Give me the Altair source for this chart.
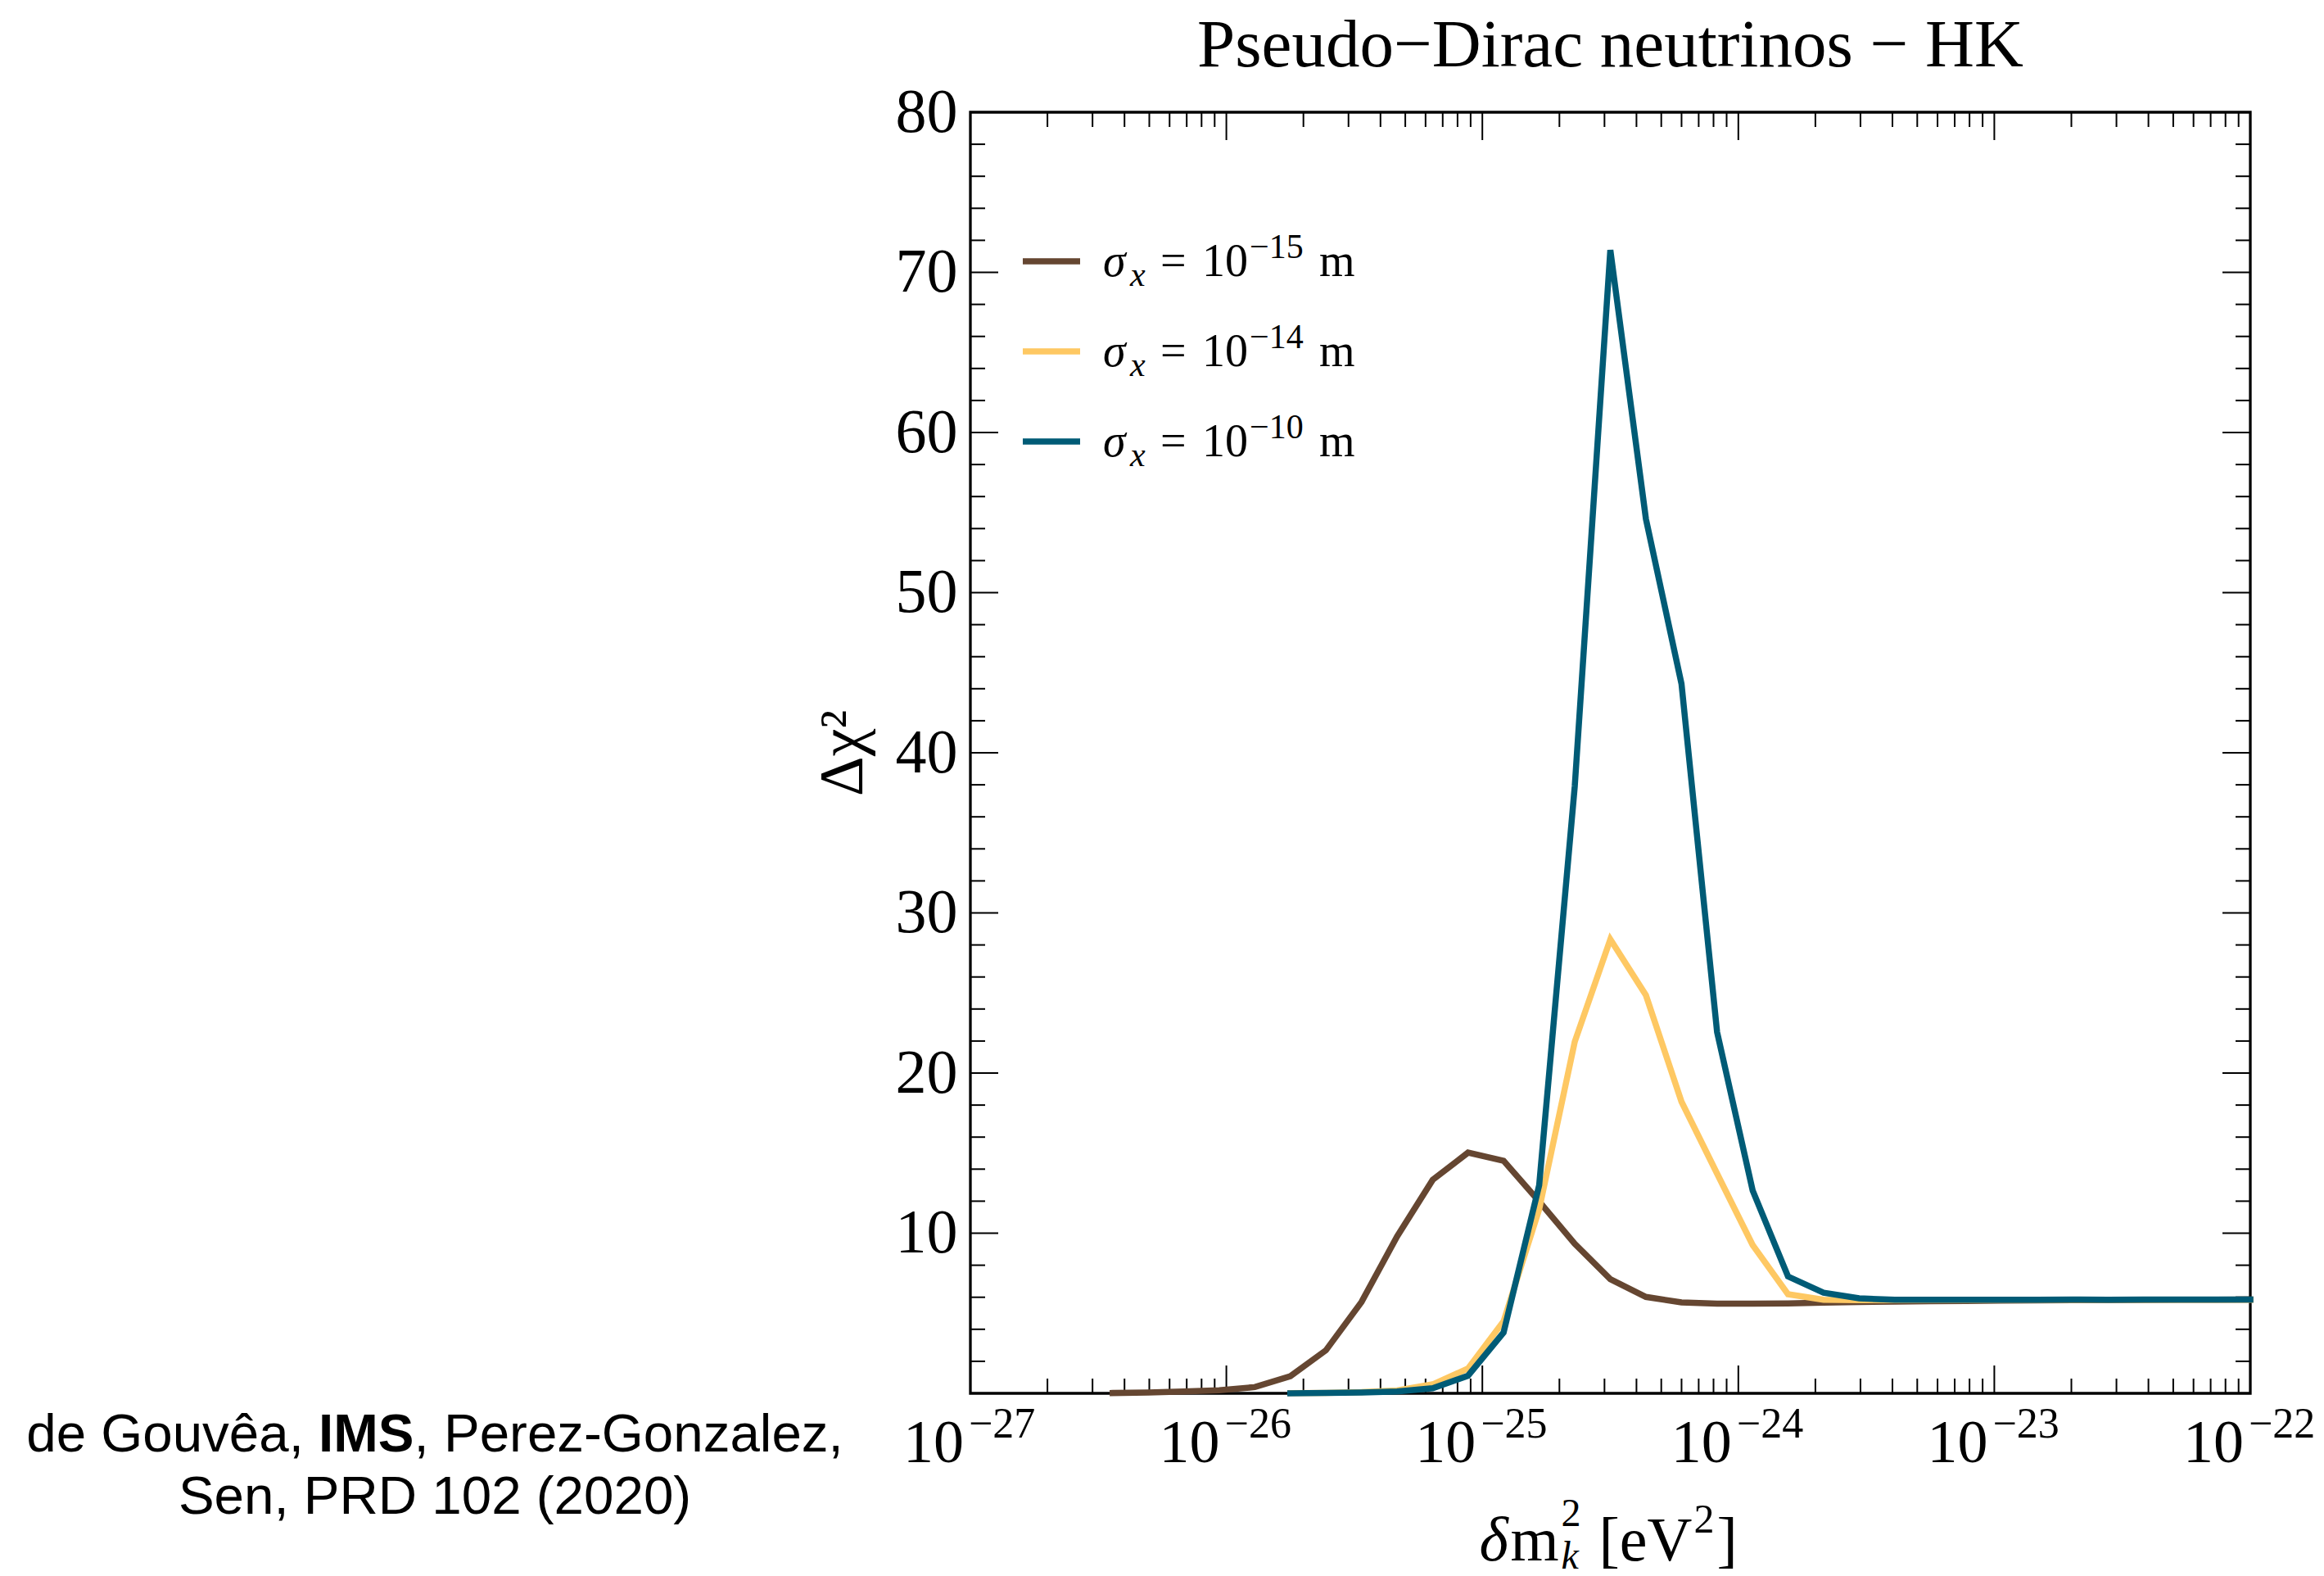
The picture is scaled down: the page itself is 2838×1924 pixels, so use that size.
import altair as alt
import pandas as pd

# ---------------- data ----------------
TITLE = "Pseudo\u2212Dirac neutrinos \u2212 HK"
SERIES = ["σx = 10^-15 m", "σx = 10^-14 m", "σx = 10^-10 m"]
SERIES_EXP = ["\u221215", "\u221214", "\u221210"]
COLORS = ["#654631", "#FEC863", "#005B76"]

# log10(delta m^2 / eV^2) sampling points
LOG_DM2 = [-27.000, -26.861, -26.722, -26.583, -26.444, -26.306, -26.167, -26.028,
           -25.889, -25.750, -25.611, -25.472, -25.333, -25.194, -25.056, -24.917,
           -24.778, -24.639, -24.500, -24.361, -24.222, -24.083, -23.944, -23.806,
           -23.667, -23.528, -23.389, -23.250, -23.111, -22.972, -22.833, -22.694,
           -22.556, -22.417, -22.278, -22.139, -22.000]

LOG_DM2_15 = LOG_DM2[4:]
CHI2_15 = [0.02, 0.05, 0.12, 0.19, 0.39, 1.07, 2.69, 5.71, 9.80, 13.33, 15.03, 14.52,
           11.98, 9.34, 7.13, 6.02, 5.68, 5.60, 5.60, 5.62, 5.66, 5.70, 5.73, 5.75,
           5.77, 5.79, 5.80, 5.82, 5.82, 5.83, 5.84, 5.84, 5.85]

LOG_DM2_14 = LOG_DM2[9:]
CHI2_14 = [0.01, 0.03, 0.08, 0.18, 0.56, 1.55, 4.50, 11.50, 21.96, 28.35, 24.86, 18.21,
           13.72, 9.26, 6.19, 5.85, 5.82, 5.82, 5.83, 5.83, 5.84, 5.84, 5.85, 5.85,
           5.85, 5.85, 5.85, 5.85]

LOG_DM2_10 = LOG_DM2[9:]
CHI2_10 = [0.00, 0.02, 0.05, 0.12, 0.32, 1.10, 3.80, 13.00, 37.90, 71.40, 54.60, 44.30,
           22.56, 12.67, 7.30, 6.28, 5.93, 5.85, 5.84, 5.84, 5.85, 5.85, 5.86, 5.85,
           5.86, 5.86, 5.86, 5.86]

X_MAJOR = [1e-27, 1e-26, 1e-25, 1e-24, 1e-23, 1e-22]
X_EXP = ["\u221227", "\u221226", "\u221225", "\u221224", "\u221223", "\u221222"]
X_MINOR = [m * 10.0 ** e for e in range(-27, -22) for m in range(2, 10)]
Y_MAJOR = [0, 10, 20, 30, 40, 50, 60, 70, 80]
Y_MINOR = [v for v in range(0, 81, 2) if v % 10]
Y_LABELS = [10, 20, 30, 40, 50, 60, 70, 80]

CITE_1A = "de Gouvêa,"
CITE_1B = "IMS"
CITE_1C = ", Perez-Gonzalez,"
CITE_2 = "Sen, PRD 102 (2020)"

# ---------------- layout ----------------
W, H = 1563, 1564
SERIF = "Liberation Serif"
SANS = "Liberation Sans"
MAJ, MIN = 34, 18
LW = 7.5

rows = []
for name, xs, ys in [(SERIES[0], LOG_DM2_15, CHI2_15),
                     (SERIES[1], LOG_DM2_14, CHI2_14),
                     (SERIES[2], LOG_DM2_10, CHI2_10)]:
    for i, (lx, y) in enumerate(zip(xs, ys)):
        rows.append({"dm2": 10.0 ** lx, "chi2": y, "series": name, "i": i})
df = pd.DataFrame(rows)

XS = alt.Scale(type="log", domain=[1e-27, 1e-22], nice=False)
YS = alt.Scale(domain=[0, 80], nice=False, zero=False)
Y_AXIS = alt.Axis(values=Y_LABELS, ticks=False, tickSize=0, domain=False, grid=False,
                  labelFont=SERIF, labelFontSize=76, labelPadding=16, labelColor="black",
                  title="Δχ²", titleFont=SERIF, titleFontSize=76, titleFontWeight="normal",
                  titleColor="black", titlePadding=25)

lines = alt.Chart(df).mark_line(strokeWidth=LW, strokeCap="square", clip=False).encode(
    x=alt.X("dm2:Q", scale=XS, axis=None),
    y=alt.Y("chi2:Q", scale=YS, axis=Y_AXIS),
    color=alt.Color("series:N", scale=alt.Scale(domain=SERIES, range=COLORS), legend=None),
    order="i:Q",
)

xmaj = pd.DataFrame({"v": X_MAJOR, "exp": X_EXP})
xmin = pd.DataFrame({"v": X_MINOR})
ymaj = pd.DataFrame({"v": Y_MAJOR})
ymin = pd.DataFrame({"v": Y_MINOR})


def txt(t, x, y, size, font=SERIF, style="normal", weight="normal", align="left", angle=0):
    return alt.Chart(pd.DataFrame({"t": [t]})).mark_text(
        font=font, fontSize=size, fontStyle=style, fontWeight=weight, align=align,
        baseline="alphabetic", color="black", angle=angle
    ).encode(text="t:N", x=alt.value(x), y=alt.value(y))


def xticks(data, length):
    base = alt.Chart(data).mark_rule(color="black", strokeWidth=2)
    bottom = base.encode(x=alt.X("v:Q", scale=XS, axis=None), y=alt.value(H), y2=alt.value(H - length))
    top = base.encode(x=alt.X("v:Q", scale=XS, axis=None), y=alt.value(0), y2=alt.value(length))
    return [bottom, top]


def yticks(data, length):
    base = alt.Chart(data).mark_rule(color="black", strokeWidth=2)
    left = base.encode(y=alt.Y("v:Q", scale=YS, axis=Y_AXIS), x=alt.value(0), x2=alt.value(length))
    right = base.encode(y=alt.Y("v:Q", scale=YS, axis=Y_AXIS), x=alt.value(W), x2=alt.value(W - length))
    return [left, right]


xlab_base = alt.Chart(xmaj).mark_text(font=SERIF, fontSize=74, align="right", baseline="alphabetic",
                                      dx=-8, color="black", text="10").encode(
    x=alt.X("v:Q", scale=XS, axis=None), y=alt.value(H + 84))
xlab_exp = alt.Chart(xmaj).mark_text(font=SERIF, fontSize=52, align="left", baseline="alphabetic",
                                     dx=-2, color="black").encode(
    x=alt.X("v:Q", scale=XS, axis=None), y=alt.value(H + 54), text="exp:N")

# title
title = [txt(TITLE, W / 2, -56, 83, align="center")]

# x-axis title:  δm²_k [eV²]
cx = W / 2
L = cx - 160
xtitle = [
    txt("δ", L, H + 204, 76, style="italic"),
    txt("m", L + 38, H + 204, 76),
    txt("2", L + 100, H + 162, 48),
    txt("k", L + 100, H + 214, 48, style="italic"),
    txt("[eV", L + 146, H + 204, 76),
    txt("2", L + 262, H + 170, 50),
    txt("]", L + 290, H + 204, 76),
]

# legend (drawn by hand: line swatch + math-style label)
legend = []
for r, (name, col, ex) in enumerate(zip(SERIES, COLORS, SERIES_EXP)):
    ly = 182 + 110 * r
    b = ly + 18
    legend.append(alt.Chart(pd.DataFrame({"s": [name]})).mark_rule(
        color=col, strokeWidth=LW).encode(x=alt.value(64), x2=alt.value(134), y=alt.value(ly)))
    legend += [
        txt("σ", 162, b, 56, style="italic"),
        txt("x", 195, b + 12, 42, style="italic"),
        txt("=", 232, b, 56),
        txt("10", 283, b, 56),
        txt(ex, 341, b - 22, 42),
        txt("m", 426, b, 56),
    ]

# citation (outside the axes, bottom left)
CF = 65.5
X0 = 531 - 1185
TOT = 15.229 * CF
left0 = X0 - TOT / 2
cite = [
    txt(CITE_1A, left0, 1635, CF, font=SANS),
    txt(CITE_1B, left0 + 5.448 * CF, 1635, CF, font=SANS, weight="bold"),
    txt(CITE_1C, left0 + 7.226 * CF, 1635, CF, font=SANS),
    txt(CITE_2, X0, 1711, CF, font=SANS, align="center"),
]

layers = (xticks(xmaj, MAJ) + xticks(xmin, MIN) + yticks(ymaj, MAJ) + yticks(ymin, MIN)
          + [lines, xlab_base, xlab_exp] + title + xtitle + legend + cite)

chart = alt.layer(*layers).properties(
    width=W, height=H,
    autosize=alt.AutoSizeParams(type="none"),
    padding={"left": 1185, "top": 137, "right": 90, "bottom": 223},
    background="white",
).configure_view(stroke="black", strokeWidth=3.3)

chart.save("out.html", embed_options={"renderer": "svg", "actions": False})
